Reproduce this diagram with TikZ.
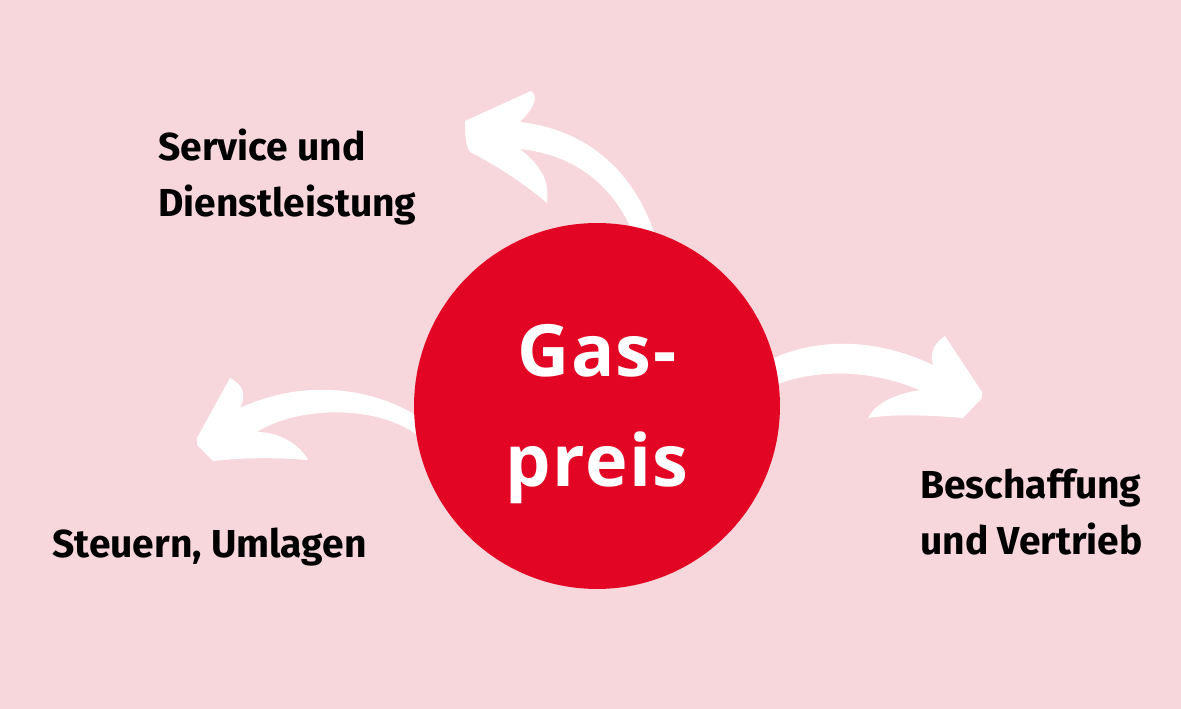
\documentclass[tikz,border=0pt]{standalone}
\usepackage{fontspec}
\setmainfont{Fira Sans}
\newfontfamily\gasfont[LetterSpace=2]{Open Sans}
\usetikzlibrary{positioning}
\definecolor{rose}{HTML}{F7D7DC}
\definecolor{gasred}{HTML}{E30524}

\begin{document}
\begin{tikzpicture}[x=0.02cm,y=-0.02cm,
    label/.style={font=\fontsize{22.2}{32}\selectfont\bfseries,align=left,inner sep=0pt,anchor=base west},
    swoosh/.style={fill=white,draw=none}]
  \fill[rose] (0,0) rectangle (1181,709);
  \useasboundingbox (0,0) rectangle (1181,709);
  % arrows
  \fill[swoosh] (465,121) -- (531,91) .. controls (537,95) and (538,104) .. (520,122)
    .. controls (575,128) and (630,160) .. (655,235) -- (636,240)
    .. controls (615,185) and (575,155) .. (520,149)
    .. controls (540,165) and (550,180) .. (547,203)
    .. controls (520,180) and (490,162) .. (470,152)
    .. controls (465,145) and (465,130) .. cycle;
  \fill[swoosh] (770,360) .. controls (810,340) and (870,335) .. (933,365)
    .. controls (930,355) and (932,345) .. (945,336) -- (982,392)
    .. controls (983,397) and (981,400) .. (978,402) -- (963,418)
    .. controls (930,415) and (890,414) .. (868,418)
    .. controls (875,405) and (890,395) .. (920,390)
    .. controls (870,370) and (820,368) .. (775,385) -- cycle;
  \fill[swoosh] (197,438) -- (230,378) .. controls (240,383) and (248,392) .. (240,408)
    .. controls (300,380) and (370,385) .. (420,418) -- (420,437)
    .. controls (380,405) and (300,405) .. (257,432)
    .. controls (280,432) and (300,445) .. (308,460)
    .. controls (270,457) and (240,458) .. (213,461) -- (197,445) -- cycle;
  % circle
  \node[circle,fill=gasred,minimum size=7.32cm,inner sep=0pt] (gaspreis) at (597,406) {};
  \node[text=white,align=center,inner sep=0pt,anchor=base,
    font=\gasfont\fontsize{41}{63}\selectfont\bfseries] (gastext) at (597,487) {Gas-\\preis};
  % labels
  \node[label] (service) at (158,217) {Service und\\Dienstleistung};
  \node[label] (steuern) at (52,558) {Steuern, Umlagen};
  \node[label] (beschaffung) at (920,555) {Beschaffung\\und Vertrieb};
\end{tikzpicture}
\end{document}
